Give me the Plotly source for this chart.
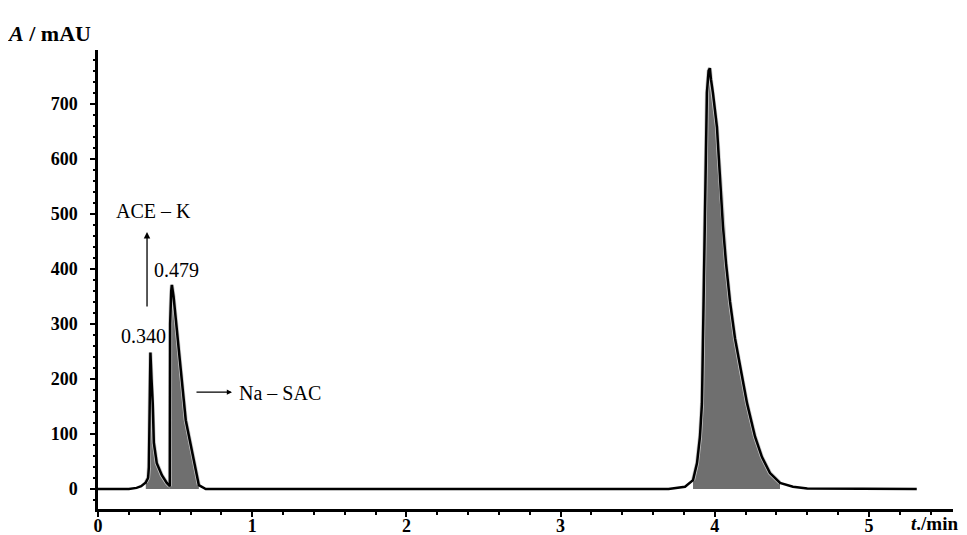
import plotly.graph_objects as go

# ---- data ----
time_min = [0.00, 0.20, 0.25, 0.28, 0.31, 0.325, 0.330, 0.336, 0.340, 0.347, 0.355, 0.362,
            0.381, 0.414, 0.446, 0.466, 0.468, 0.475, 0.479, 0.490, 0.504, 0.537, 0.569,
            0.608, 0.634, 0.654, 0.699, 3.70, 3.807, 3.859, 3.885, 3.904, 3.917, 3.924,
            3.930, 3.943, 3.949, 3.960, 3.968, 3.975, 3.988, 4.014, 4.027, 4.040, 4.053,
            4.073, 4.099, 4.131, 4.170, 4.209, 4.261, 4.306, 4.358, 4.423, 4.507, 4.60, 5.31]
absorbance_mau = [0, 0, 2, 5, 12, 20, 40, 160, 248, 200, 156, 84,
                  47, 25, 11, 5, 300, 360, 371, 350, 306, 216, 125,
                  71, 29, 7, 0, 0, 4, 16, 47, 95, 156, 276,
                  398, 538, 720, 760, 765, 745, 720, 658, 598, 538, 478,
                  410, 340, 274, 214, 156, 95, 58, 29, 11, 4, 1, 0]

# integration windows of the shaded peaks (min)
peak_window_start = [0.31, 0.466, 3.83]
peak_window_end = [0.466, 0.654, 4.45]

# peak labels
peak_label_text = ["0.340", "0.479", "ASP", "3.968"]
peak_label_x = [0.292, 0.512, 3.988, 3.988]
peak_label_y = [278, 398, 849, 807]

x_ticks = [0, 1, 2, 3, 4, 5]
y_ticks = [0, 100, 200, 300, 400, 500, 600, 700]

FONT = "Liberation Serif"

fig = go.Figure()

# shaded peak areas
for s, e in zip(peak_window_start, peak_window_end):
    xs = [t for t in time_min if s <= t <= e]
    ys = [a for t, a in zip(time_min, absorbance_mau) if s <= t <= e]
    fig.add_trace(go.Scatter(x=xs, y=ys, mode="lines", fill="tozeroy",
                             fillcolor="#6f6f6f",
                             line=dict(color="#c8c8c8", width=4),
                             hoverinfo="skip", showlegend=False))

# chromatogram outline
fig.add_trace(go.Scatter(x=time_min, y=absorbance_mau, mode="lines",
                         line=dict(color="black", width=2.5),
                         showlegend=False))

annotations = []
for txt, x, y in zip(peak_label_text, peak_label_x, peak_label_y):
    annotations.append(dict(x=x, y=y, xref="x", yref="y", text=txt, showarrow=False,
                            font=dict(family=FONT, size=20, color="black")))

# compound labels with arrows
annotations.append(dict(x=0.36, y=505, xref="x", yref="y", text="ACE – K", showarrow=False,
                        font=dict(family=FONT, size=20, color="black")))
annotations.append(dict(x=0.318, y=467, ax=0.318, ay=329, xref="x", yref="y",
                        axref="x", ayref="y", text="", showarrow=True,
                        arrowhead=2, arrowsize=1, arrowwidth=1.3, arrowcolor="black"))
annotations.append(dict(x=0.901, y=175, xref="x", yref="y", text="Na – SAC", showarrow=False,
                        xanchor="left", font=dict(family=FONT, size=20, color="black")))
annotations.append(dict(x=0.869, y=176, ax=0.629, ay=176, xref="x", yref="y",
                        axref="x", ayref="y", text="", showarrow=True,
                        arrowhead=2, arrowsize=0.8, arrowwidth=1.3, arrowcolor="black"))

# axis titles
annotations.append(dict(x=-0.006, y=1.037, xref="paper", yref="paper", xanchor="right",
                        yanchor="middle", text="<b><i>A</i> / mAU</b>", showarrow=False,
                        font=dict(family=FONT, size=22, color="black")))
annotations.append(dict(x=5.262, y=-0.031, xref="x", yref="paper", xanchor="left",
                        yanchor="middle", text="<b><i>t</i>./min</b>", showarrow=False,
                        font=dict(family=FONT, size=19, color="black")))

# page body has an 8px margin; size the figure so the plot lands where the reference has it
fig.update_layout(
    width=959, height=527, autosize=False,
    margin=dict(l=90, r=14, t=42, b=26),
    paper_bgcolor="white", plot_bgcolor="white",
    annotations=annotations,
    font=dict(family=FONT, color="black"),
)

fig.update_xaxes(range=[0, 5.545], tickvals=x_ticks, showgrid=False, zeroline=False,
                 automargin=False, ticklabelstandoff=-6,
                 showline=True, linecolor="black", linewidth=2.5,
                 ticks="outside", ticklen=5, tickwidth=1.5, tickcolor="black",
                 minor=dict(dtick=0.2, tick0=0, ticks="outside", ticklen=3, tickwidth=1.5,
                            tickcolor="black", showgrid=False),
                 tickfont=dict(family=FONT, size=18, color="black", weight="bold"))
fig.update_yaxes(range=[-36.4, 798], tickvals=y_ticks, showgrid=False, zeroline=False,
                 automargin=False, ticklabelstandoff=9,
                 showline=True, linecolor="black", linewidth=2.5,
                 ticks="outside", ticklen=5, tickwidth=1.5, tickcolor="black",
                 minor=dict(dtick=20, tick0=0, ticks="outside", ticklen=2, tickwidth=1.5,
                            tickcolor="black", showgrid=False),
                 tickfont=dict(family=FONT, size=18, color="black", weight="bold"))

fig.write_html("out.html")
